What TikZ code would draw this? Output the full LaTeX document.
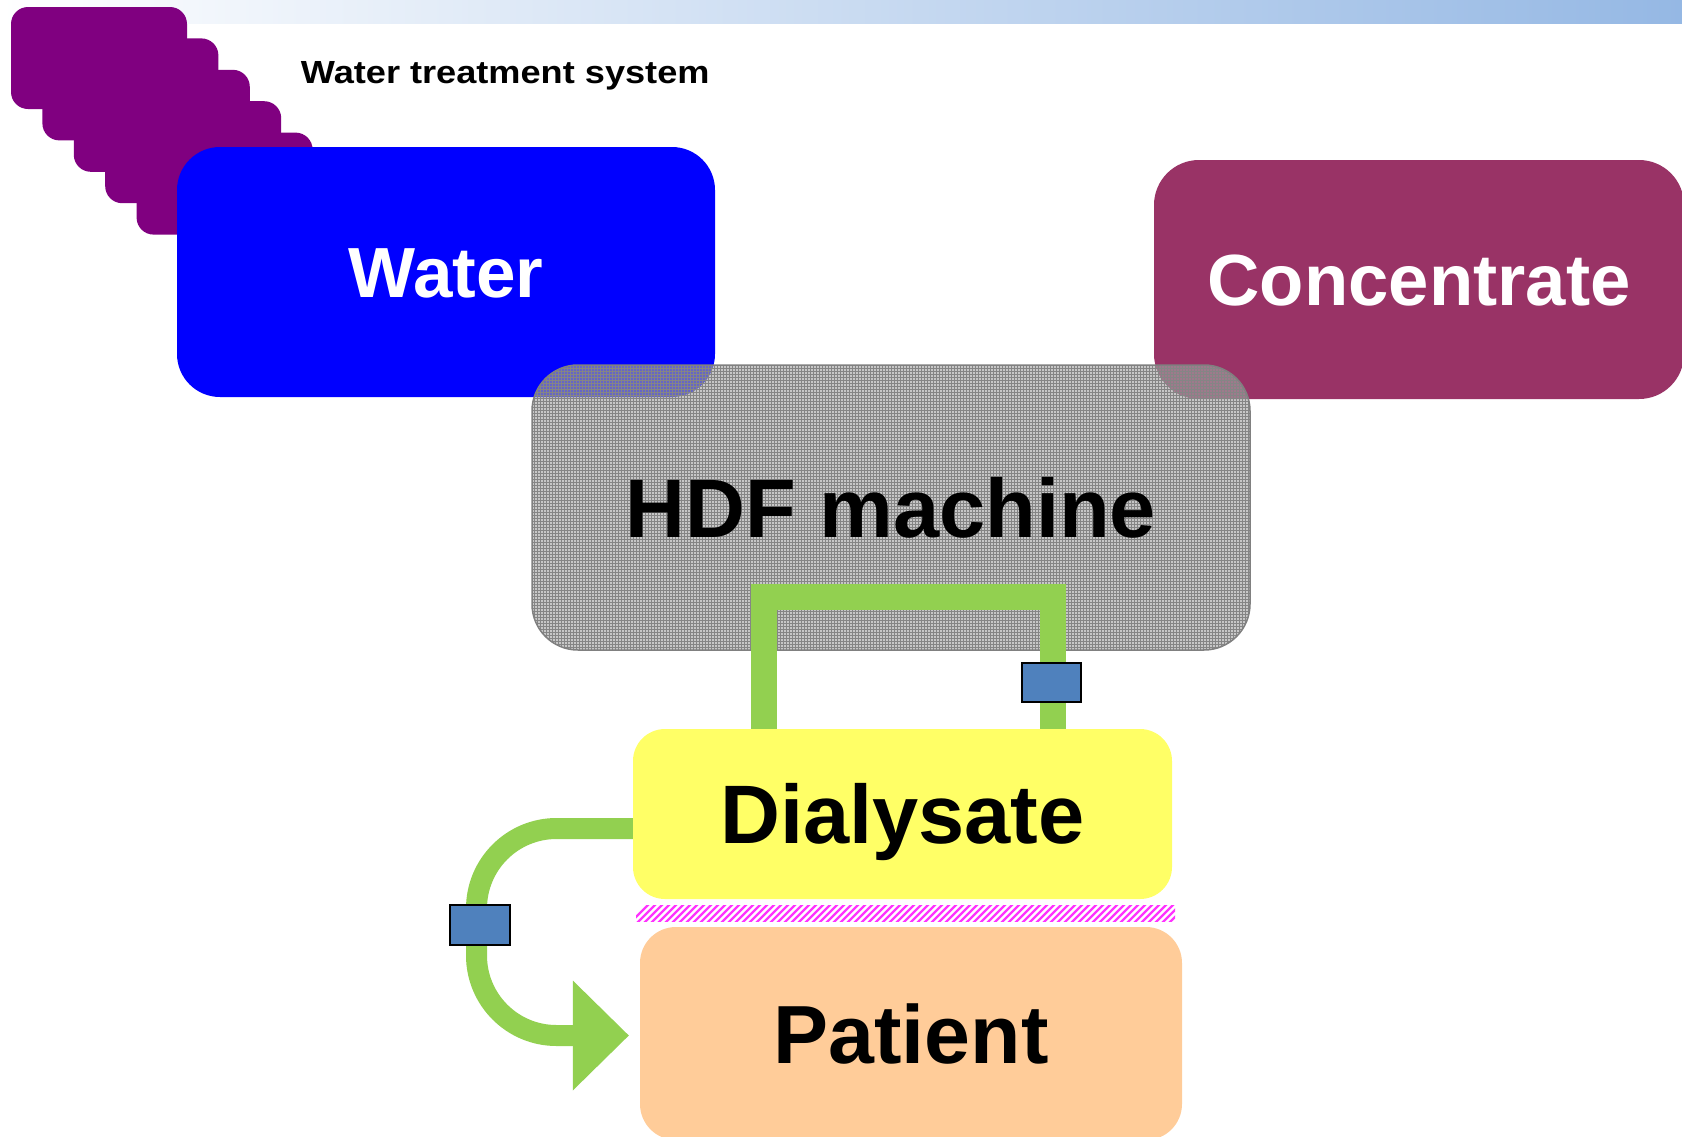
\documentclass[tikz,border=0pt]{standalone}
\usepackage{fontspec}
\setmainfont{Liberation Sans}
\usetikzlibrary{patterns,calc}

\definecolor{stackpurple}{HTML}{800080}
\definecolor{waterblue}{HTML}{0000FF}
\definecolor{concpurple}{HTML}{993366}
\definecolor{machinegray}{HTML}{A4A4A4}
\definecolor{machinegrid}{HTML}{858585}
\definecolor{tubegreen}{HTML}{92D050}
\definecolor{valveblue}{HTML}{4F81BD}
\definecolor{dialyellow}{HTML}{FFFF66}
\definecolor{patientpeach}{HTML}{FFCC99}
\definecolor{barblue}{HTML}{95B8E4}
\definecolor{membrane}{HTML}{FF33FF}

\tikzset{
  block/.style={rectangle, inner sep=0pt, text depth=0pt},
  bigtext/.style={font=\bfseries\fontsize{#1pt}{#1pt}\selectfont, text height=0.716*#1pt},
  tubewide/.style={draw=tubegreen, line width=26pt, line join=miter, line cap=butt},
  tubenarrow/.style={draw=tubegreen, line width=21pt, line cap=butt},
  valve/.style={rectangle, fill=valveblue, draw=black, line width=2pt, inner sep=0pt},
}

\begin{document}
\begin{tikzpicture}[x=1pt,y=-1pt]
\useasboundingbox (0,0) rectangle (1682,1136);
\clip (0,0) rectangle (1682,1136);

% header band
\shade[left color=white, right color=barblue] (0,0) rectangle (1682,23);

% stepped stack behind the water supply
\foreach \k in {0,...,4}
  \fill[stackpurple, rounded corners=17pt]
    ({11+31.4*\k},{7+31.4*\k}) rectangle ++(176,102);

\node[font=\bfseries\fontsize{32pt}{32pt}\selectfont, xscale=1.13, anchor=base west]
  (wts) at (297,83) {Water treatment system};

% supplies
\node[block, bigtext=71, fill=waterblue, text=white, rounded corners=43pt,
      minimum width=538pt, minimum height=250pt] (water) at (446,272) {Water};
\node[block, bigtext=72.5, fill=concpurple, text=white, rounded corners=45pt,
      minimum width=530pt, minimum height=239pt] (conc) at (1419,279.5) {Concentrate};

% machine
\node[block, bigtext=83, rounded corners=46pt,
      preaction={fill=machinegray, fill opacity=0.62},
      pattern=grid, pattern color=machinegrid,
      draw=gray, line width=1.5pt,
      minimum width=718pt, minimum height=285pt] (hdf) at (891,507.5) {HDF machine};

% dialysate and patient blocks (positions used by the tubing)
\path node[block, minimum width=539pt, minimum height=170pt] (dial) at (902.5,814) {}
      node[block, minimum width=542pt, minimum height=213pt] (patient) at (911,1033.5) {};

% loop between machine and dialysate
\coordinate (loopL) at (764,597);
\coordinate (loopR) at (1053,597);
\draw[tubewide] (loopL |- dial.north) -- (loopL) -- (loopR) -- (loopR |- dial.north);
\node[valve, minimum width=59pt, minimum height=39pt] (valveR) at (1051.5,682.5) {};

% line from dialysate to patient
\coordinate (outlet) at ($(dial.west)+(0,14.5)$);
\coordinate (tip) at ($(patient.west)+(-11,2)$);
\coordinate (inlet) at ($(tip)+(-56,0)$);
\draw[tubenarrow, rounded corners=80pt] (outlet) -| (476.5,1035.5) -- (inlet);
\fill[tubegreen] (inlet) ++(0,-55) -- (tip) -- ($(inlet)+(0,55)$) -- cycle;
\node[valve, minimum width=60pt, minimum height=40pt] (valveL) at (480,925) {};

% dialysate
\node[block, bigtext=83, fill=dialyellow, rounded corners=32pt,
      minimum width=539pt, minimum height=170pt] at (dial.center) {Dialysate};

% membrane strip
\begin{scope}
  \clip (636,905) rectangle (1175,921);
  \foreach \i in {0,7,...,560}
    \draw[membrane, line width=2.2pt] ({630+\i},923) -- ({650+\i},903);
\end{scope}

% patient
\node[block, bigtext=82.5, fill=patientpeach, rounded corners=36pt,
      minimum width=542pt, minimum height=213pt] at (patient.center) {Patient};
\end{tikzpicture}
\end{document}
